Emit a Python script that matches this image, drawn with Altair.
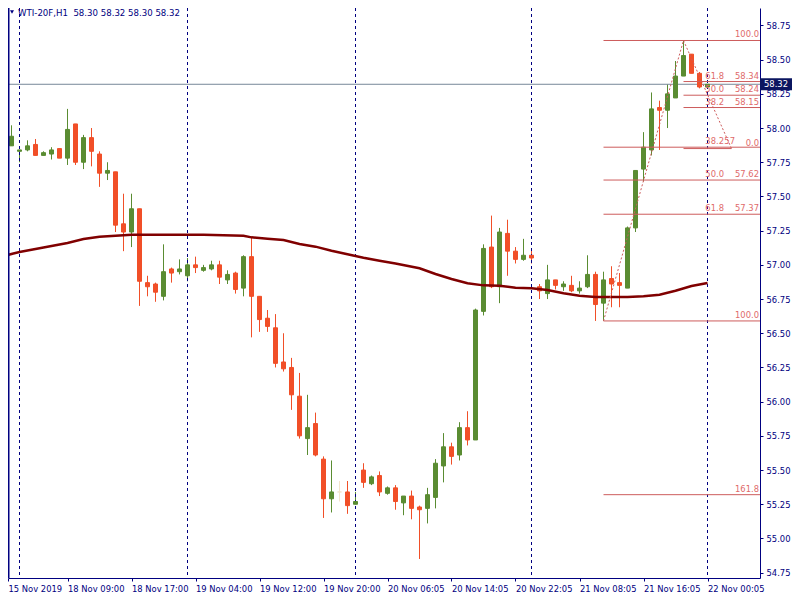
import json
import altair as alt
import pandas as pd

# ---------------- data ----------------
symbol = "WTI-20F"
timeframe = "H1"

bar_index = list(range(89))
opens = [57.83, 57.87, 57.83, 57.84, 57.88, 57.80, 57.81, 57.85, 57.78, 58.03,
         57.75, 57.93, 57.81, 57.67, 57.68, 57.30, 57.24, 57.41, 56.87, 56.86,
         56.77, 56.97, 56.95, 56.92, 57.00, 56.96, 56.97, 57.00, 56.89, 56.94,
         56.83, 57.06, 56.77, 56.61, 56.54, 56.29, 56.25, 56.04, 55.73, 55.84,
         55.58, 55.29, 55.34, 55.34, 55.25, 55.50, 55.40, 55.46, 55.33, 55.37,
         55.26, 55.31, 55.23, 55.22, 55.30, 55.53, 55.67, 55.61, 55.81, 55.72,
         56.66, 57.13, 56.84, 57.23, 57.10, 57.04, 57.07, 56.84, 56.79, 56.89,
         56.84, 56.85, 56.81, 56.84, 56.93, 56.72, 56.90, 56.87, 56.83, 57.27,
         57.70, 57.84, 58.15, 58.13, 58.22, 58.38, 58.54, 58.40, 58.30]
highs = [57.90, 58.02, 57.84, 57.91, 57.92, 57.83, 57.86, 57.85, 58.14, 58.03,
         57.95, 58.00, 57.83, 57.75, 57.68, 57.52, 57.52, 57.41, 56.92, 56.87,
         57.15, 56.98, 57.04, 57.05, 57.06, 57.00, 57.03, 57.03, 56.96, 56.95,
         57.07, 57.20, 56.77, 56.67, 56.64, 56.50, 56.32, 56.21, 56.05, 55.92,
         55.60, 55.57, 55.42, 55.42, 55.34, 55.55, 55.46, 55.49, 55.38, 55.39,
         55.31, 55.35, 55.24, 55.37, 55.58, 55.77, 55.70, 55.85, 55.93, 56.68,
         57.15, 57.36, 57.27, 57.33, 57.13, 57.19, 57.11, 56.86, 57.00, 56.89,
         56.88, 56.92, 56.88, 57.07, 56.95, 56.95, 56.99, 56.94, 57.28, 57.69,
         57.97, 58.26, 58.20, 58.32, 58.49, 58.64, 58.54, 58.41, 58.32]
lows = [57.83, 57.87, 57.75, 57.83, 57.80, 57.80, 57.77, 57.78, 57.73, 57.73,
        57.70, 57.72, 57.57, 57.62, 57.24, 57.10, 57.13, 56.70, 56.77, 56.73,
        56.74, 56.87, 56.93, 56.88, 56.94, 56.95, 56.96, 56.86, 56.86, 56.79,
        56.77, 56.47, 56.51, 56.51, 56.25, 56.22, 55.94, 55.73, 55.61, 55.60,
        55.15, 55.19, 55.27, 55.18, 55.25, 55.37, 55.39, 55.31, 55.32, 55.21,
        55.17, 55.14, 54.85, 55.11, 55.22, 55.41, 55.54, 55.57, 55.68, 55.72,
        56.63, 56.83, 56.72, 56.92, 57.01, 57.03, 57.01, 56.75, 56.75, 56.82,
        56.81, 56.80, 56.79, 56.83, 56.59, 56.59, 56.69, 56.69, 56.83, 57.24,
        57.61, 57.80, 57.84, 58.00, 58.22, 58.38, 58.40, 58.29, 58.30]
closes = [57.90, 57.94, 57.84, 57.87, 57.80, 57.82, 57.84, 57.78, 57.99, 57.75,
          57.93, 57.83, 57.67, 57.69, 57.29, 57.24, 57.41, 56.88, 56.84, 56.80,
          56.95, 56.94, 56.97, 57.00, 56.98, 56.98, 57.00, 56.91, 56.93, 56.82,
          57.06, 56.77, 56.60, 56.55, 56.28, 56.24, 56.05, 55.75, 55.81, 55.61,
          55.29, 55.34, 55.34, 55.24, 55.27, 55.41, 55.45, 55.34, 55.37, 55.27,
          55.31, 55.22, 55.21, 55.32, 55.55, 55.67, 55.60, 55.81, 55.72, 56.67,
          57.12, 56.84, 57.24, 57.10, 57.04, 57.07, 57.05, 56.81, 56.89, 56.85,
          56.86, 56.81, 56.83, 56.93, 56.71, 56.89, 56.86, 56.85, 57.27, 57.69,
          57.86, 58.14, 58.13, 58.25, 58.38, 58.53, 58.40, 58.30, 58.32]

# moving average, read at these bars
ma_bars = [0, 2, 5, 8, 10, 12, 14, 16, 25, 30, 31, 33, 35, 37, 39, 41, 43, 45, 47, 49,
           52, 54, 56, 58, 60, 62, 64, 66, 68, 70, 72, 74, 78, 80, 82, 84, 86, 88]
ma_values = [57.065, 57.094, 57.127, 57.160, 57.189, 57.206, 57.213, 57.220,
             57.220, 57.213, 57.201, 57.191, 57.182, 57.152, 57.133, 57.103, 57.077, 57.052, 57.030, 57.010,
             56.975, 56.933, 56.897, 56.865, 56.850, 56.848, 56.833, 56.829, 56.816, 56.792, 56.774, 56.765,
             56.765, 56.770, 56.782, 56.811, 56.845, 56.867]

# time axis
time_label_bars = [0, 8, 16, 24, 32, 40, 48, 56, 64, 72, 80, 88]
time_labels = ["15 Nov 2019", "18 Nov 09:00", "18 Nov 17:00", "19 Nov 04:00",
               "19 Nov 12:00", "19 Nov 20:00", "20 Nov 06:05", "20 Nov 14:05",
               "20 Nov 22:05", "21 Nov 08:05", "21 Nov 16:05", "22 Nov 00:05"]
day_separator_bars = [2, 23, 44, 66, 88]

price_ticks = [54.75, 55.00, 55.25, 55.50, 55.75, 56.00, 56.25, 56.50, 56.75,
               57.00, 57.25, 57.50, 57.75, 58.00, 58.25, 58.50, 58.75]

# Fibonacci objects
fibA_start_bar = 75
fibA_levels = ["100.0", "38.2", "50.0", "61.8", "100.0", "161.8"]
fibA_prices = [58.64, 57.86, 57.62, 57.37, 56.59, 55.32]
fibA_anchor_bars = [75, 85]
fibA_anchor_prices = [56.59, 58.64]

fibB_start_bar = 85
fibB_levels = ["61.8", "50.0", "38.2", "0.0"]
fibB_prices = [58.34, 58.24, 58.15, 57.85]
fibB_anchor_bars = [85, 91]
fibB_anchor_prices = [58.64, 57.85]

current_price = 58.32

# ---------------- styling ----------------
NAVY = "#000080"
FONT = "DejaVu Sans"
FS = 8.4
UP, DOWN, FLAT = "#5a8c32", "#f14f28", "#f3e4cc"
FIB_LINE = "#cd5c5c"
FIB_TEXT = "#e06a6a"

W, H = 752, 570
X_MIN, X_MAX = 0.5625, 94.5625
Y_MIN, Y_MAX = 54.711, 58.8775
xs = alt.Scale(domain=[X_MIN, X_MAX], nice=False, zero=False, padding=0)
ys = alt.Scale(domain=[Y_MIN, Y_MAX], nice=False, zero=False, padding=0)
cs = alt.Scale(domain=["up", "down", "flat"], range=[UP, DOWN, FLAT])

# ---------------- tables ----------------
def direction(o, c):
    if c > o:
        return "up"
    if c < o:
        return "down"
    return "flat"

candles = pd.DataFrame({
    "bar": bar_index, "open": opens, "high": highs, "low": lows, "close": closes,
})
candles["dir"] = [direction(o, c) for o, c in zip(opens, closes)]
candles["body_lo"] = candles[["open", "close"]].min(axis=1)
candles["body_hi"] = candles[["open", "close"]].max(axis=1)

ma_df = pd.DataFrame({"bar": ma_bars, "ma": ma_values})
sep_df = pd.DataFrame({"bar": day_separator_bars})
cur_df = pd.DataFrame({"price": [current_price], "txt": [f"{current_price:.2f}"]})

fib_rows = []
for lv, p in zip(fibA_levels, fibA_prices):
    fib_rows.append({"level": lv, "price": p, "start": fibA_start_bar, "end": X_MAX, "obj": "A"})
for lv, p in zip(fibB_levels, fibB_prices):
    end = fibB_anchor_bars[1] if lv == "0.0" else X_MAX
    fib_rows.append({"level": lv, "price": p, "start": fibB_start_bar, "end": end, "obj": "B"})
fib_df = pd.DataFrame(fib_rows)

only_level = {"100.0", "161.8", "0.0"}
level_col = fib_df[~fib_df["level"].isin(only_level)][["level", "price"]].rename(columns={"level": "txt"})
right_rows = []
for r in fib_rows:
    if r["level"] in only_level:
        right_rows.append({"txt": r["level"], "price": r["price"]})
    elif not (r["obj"] == "A" and r["level"] == "38.2"):
        right_rows.append({"txt": f"{r['price']:.2f}", "price": r["price"]})
right_col = pd.DataFrame(right_rows)
hidden_row = fib_df[(fib_df["obj"] == "A") & (fib_df["level"] == "38.2")]
hidden_col = pd.DataFrame({"txt": [f"{hidden_row['price'].iloc[0]:.2f}"[:2]],
                           "price": [hidden_row["price"].iloc[0]]})

diag_df = pd.DataFrame({
    "x1": [fibA_anchor_bars[0], fibB_anchor_bars[0]],
    "x2": [fibA_anchor_bars[1], fibB_anchor_bars[1]],
    "y1": [fibA_anchor_prices[0], fibB_anchor_prices[0]],
    "y2": [fibA_anchor_prices[1], fibB_anchor_prices[1]],
})

last = candles.iloc[-1]
title_text = (f"{symbol},{timeframe}\u00a0\u00a0{last['open']:.2f} {last['high']:.2f} "
              f"{last['low']:.2f} {last['close']:.2f}")

# ---------------- axes ----------------
label_expr = f"{json.dumps(time_labels)}[round(datum.value / 8)]"
x_axis = alt.Axis(
    orient="bottom", values=[X_MIN] + time_label_bars[1:], labelExpr=label_expr,
    grid=False, title=None, domainColor=NAVY, tickColor=NAVY, tickSize=3,
    labelColor=NAVY, labelFont=FONT, labelFontSize=FS, labelAlign="left",
    labelFlush=False, labelOverlap=False, labelPadding=3, labelBaseline="top",
)
y_axis = alt.Axis(
    orient="right", values=price_ticks, format=".2f", grid=False, title=None,
    domainColor=NAVY, tickColor=NAVY, tickSize=3, labelColor=NAVY,
    labelFont=FONT, labelFontSize=FS, labelPadding=3, labelOverlap=False,
    labelFlush=False,
)

def X(field):
    return alt.X(field, scale=xs, axis=x_axis)

def Y(field):
    return alt.Y(field, scale=ys, axis=y_axis)

# ---------------- layers ----------------
wicks = alt.Chart(candles).mark_rule(strokeWidth=1, clip=True).encode(
    x=X("bar:Q"), y=Y("low:Q"), y2="high:Q",
    color=alt.Color("dir:N", scale=cs, legend=None),
)

separators = alt.Chart(sep_df).mark_rule(color=NAVY, strokeWidth=1, strokeDash=[3, 3]).encode(
    x=X("bar:Q")
)

price_line = alt.Chart(cur_df).mark_rule(color="#778899", strokeWidth=1).encode(
    y=Y("price:Q")
)

bodies = alt.Chart(candles).mark_bar(size=4, strokeWidth=1, clip=True).encode(
    x=X("bar:Q"), y=Y("body_lo:Q"), y2="body_hi:Q",
    fill=alt.Fill("dir:N", scale=cs, legend=None),
    stroke=alt.Stroke("dir:N", scale=cs, legend=None),
)

ma_line = alt.Chart(ma_df).mark_line(color="#800000", strokeWidth=2.5, clip=True).encode(
    x=X("bar:Q"), y=Y("ma:Q"),
)

fib_lines = alt.Chart(fib_df).mark_rule(color=FIB_LINE, strokeWidth=1, clip=True).encode(
    x=X("start:Q"), x2="end:Q", y=Y("price:Q"),
)

fib_diag = alt.Chart(diag_df).mark_rule(color=FIB_LINE, strokeWidth=1, strokeDash=[2, 2], clip=True).encode(
    x=X("x1:Q"), x2="x2:Q", y=Y("y1:Q"), y2="y2:Q",
)

def fib_text(df, xpix):
    return alt.Chart(df).mark_text(
        align="right", baseline="middle", dy=-6, font=FONT, fontSize=FS, color=FIB_TEXT
    ).encode(
        x=alt.value(xpix), y=Y("price:Q"), text="txt:N",
    )

fib_level_text = fib_text(level_col, 716)
fib_price_text = fib_text(right_col, 751)
fib_hidden_text = fib_text(hidden_col, 727)

price_tag = alt.Chart(cur_df).mark_tick(orient="horizontal", thickness=12, size=40, color="#0b1660", opacity=1).encode(
    x=alt.value(772), y=Y("price:Q"),
)
price_tag_text = alt.Chart(cur_df).mark_text(
    align="left", baseline="middle", font=FONT, fontSize=FS, color="white"
).encode(
    x=alt.value(756), y=Y("price:Q"), text="txt:N",
)

title = alt.Chart(cur_df).mark_text(
    align="left", baseline="middle", font=FONT, fontSize=8.6, color=NAVY
).encode(x=alt.value(10), y=alt.value(4.5), text=alt.value(title_text))

triangle = alt.Chart(cur_df).mark_point(shape="triangle-down", filled=True, size=16, color=NAVY, opacity=1).encode(
    x=alt.value(4), y=alt.value(4)
)

left_border = alt.Chart(cur_df).mark_rule(color=NAVY, strokeWidth=1.5).encode(
    x=alt.value(0.75), y=alt.value(0), y2=alt.value(H)
)

chart = alt.layer(
    wicks, separators, price_line, bodies, ma_line, fib_lines, fib_diag,
    fib_level_text, fib_price_text, fib_hidden_text, price_tag, price_tag_text,
    title, triangle, left_border,
).properties(
    width=W, height=H,
    autosize=alt.AutoSizeParams(type="none"),
    padding={"left": 0, "top": 0, "right": 32, "bottom": 14},
    background="white",
).configure_view(strokeWidth=0)

chart.save("out.html", embed_options={"renderer": "svg", "actions": False})
